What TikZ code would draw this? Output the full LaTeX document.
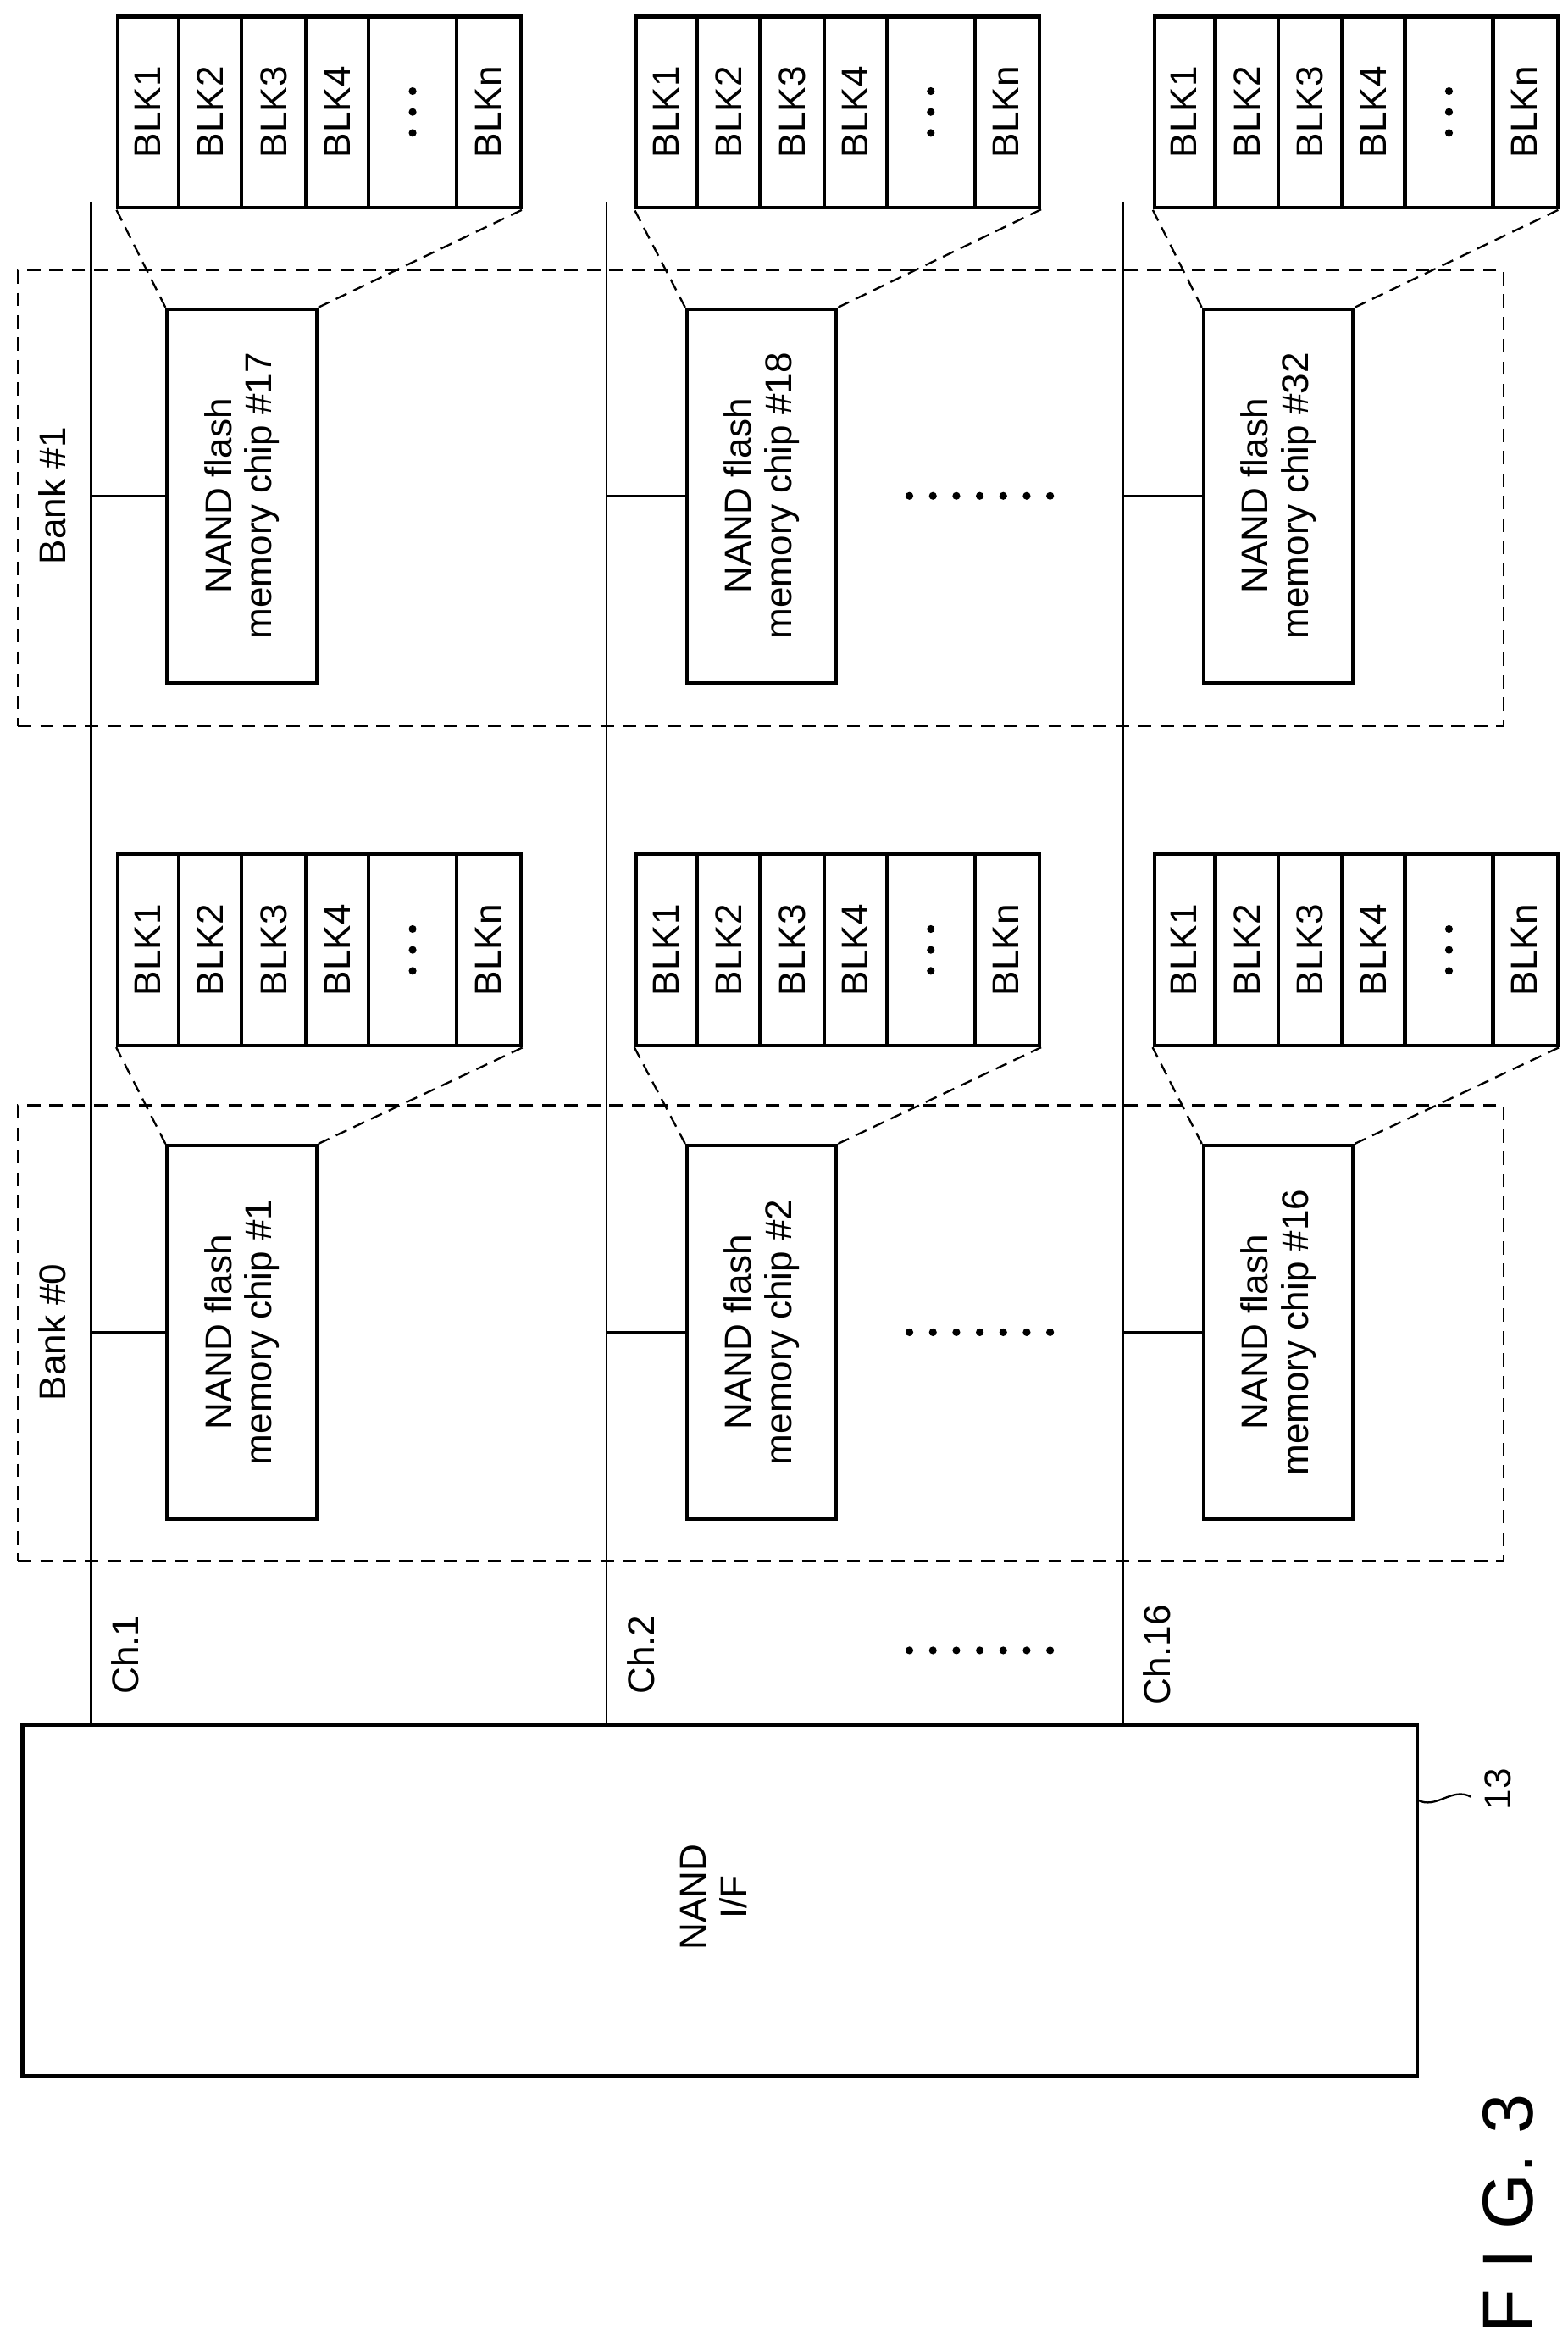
\documentclass[tikz,border=0pt]{standalone}
\usepackage{fontspec}
\setmainfont{Liberation Sans}
\usepackage{tikz}
\tikzstyle{chip} = [draw=black, line width=2.4pt, rectangle,
    minimum width=100pt, minimum height=250pt, inner sep=0pt]
\tikzstyle{blkbox} = [draw=black, line width=2.4pt, rectangle,
    minimum width=270pt, minimum height=128pt, inner sep=0pt]
\tikzstyle{bank} = [draw=black, line width=1.2pt, dash pattern=on 9pt off 6pt,
    rectangle, minimum width=995pt, minimum height=305pt, inner sep=0pt]
\tikzstyle{vtext} = [rotate=90, font=\fontsize{25}{27}\selectfont, align=center, inner sep=0pt]
\tikzstyle{wire} = [line width=1.3pt]

\begin{document}
\begin{tikzpicture}[x=1pt, y=-1pt]
    \useasboundingbox (0,0) rectangle (1050,1560);
    % interface block
    \node [draw, line width=2.4pt, minimum width=934pt, minimum height=235pt, inner sep=0pt] (nandif) at (482,1272.5) {};
    \node [vtext] (nandiftext) at (478,1270) {NAND\\I/F};
    \node [vtext] (ref13) at (1003,1198) {13};
    \coordinate (lead13) at (949,1205);
    \coordinate (lead13end) at (985,1203);
    \draw [wire] (lead13) .. controls (962,1212) and (972,1196) .. (lead13end);
    % banks
    \node [bank] (bank0) at (509.5,892.5) {};
    \node [bank] (bank1) at (509.5,333.5) {};
    \node [vtext] (bank0label) at (35,892) {Bank \#0};
    \node [vtext] (bank1label) at (35,332) {Bank \#1};
    % channels
    \foreach \ch/\cx/\lab in {1/61/Ch.1, 2/406/Ch.2, 3/752/Ch.16} {
        \coordinate (top\ch) at (\cx,135);
        \draw [wire] (top\ch) -- (top\ch |- nandif.north);
        \node [vtext] (chlabel\ch) at (\cx+23,1108) {\lab};
    }
    % chips with their blocks
    \foreach \b/\cy/\by in {0/892/636, 1/332/75} {
        \foreach \ch/\kx/\bx/\na/\nb in {1/162/214/1/17, 2/510/561/2/18, 3/856/908/16/32} {
            \ifnum\b=0 \def\num{\na}\else \def\num{\nb}\fi
            \node [chip] (chip\b\ch) at (\kx,\cy) {};
            \node [vtext] (chiptext\b\ch) at (chip\b\ch) {NAND flash\\memory chip \#\num};
            \draw [wire] (chip\b\ch.west) -- (chip\b\ch.west -| top\ch);
            \node [blkbox] (blk\b\ch) at (\bx,\by) {};
            \foreach \off in {42,84,127,169,228}
                \draw [line width=2.4pt] ([xshift=\off pt]blk\b\ch.north west) -- ([xshift=\off pt]blk\b\ch.south west);
            \foreach \off/\txt in {21/BLK1, 63/BLK2, 105.5/BLK3, 148/BLK4, 249/BLKn}
                \node [vtext] at ([xshift=\off pt]blk\b\ch.west) {\txt};
            \foreach \k in {-1,0,1}
                \fill ([xshift=198.5pt, yshift=\k*14pt]blk\b\ch.west) circle (2.6pt);
            \draw [wire, dash pattern=on 8pt off 5pt] (chip\b\ch.north west) -- (blk\b\ch.south west);
            \draw [wire, dash pattern=on 8pt off 5pt] (chip\b\ch.north east) -- (blk\b\ch.south east);
        }
    }
    % omitted channels
    \foreach \dy in {332,892,1105}
        \foreach \k in {0,...,6}
            \fill (609+15.7*\k,\dy) circle (2.6pt);
    \node [rotate=90, font=\fontsize{48}{50}\selectfont, inner sep=0pt] (figlabel) at (1010,1482) {F I G. 3};
\end{tikzpicture}
\end{document}
